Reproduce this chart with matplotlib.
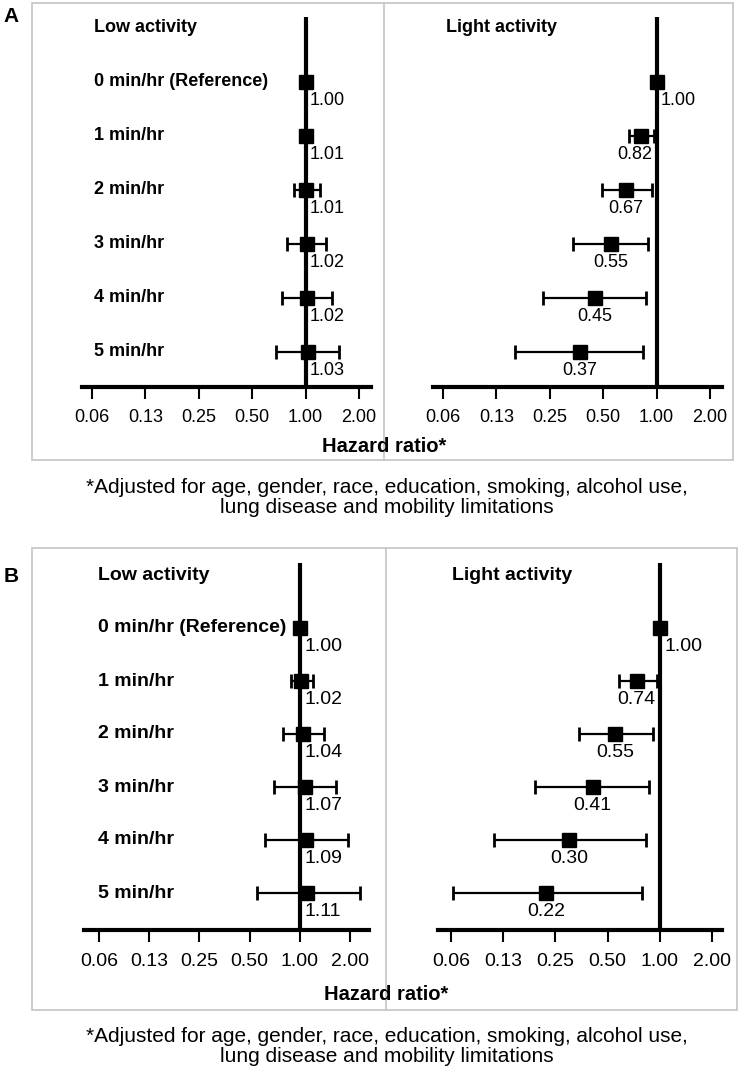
import numpy as np
import matplotlib
matplotlib.use("Agg")
import matplotlib.pyplot as plt
from matplotlib.patches import Rectangle
from matplotlib.lines import Line2D

plt.rcParams['font.family'] = ['Liberation Sans', 'DejaVu Sans']

# ---- data ----
row_labels = ["0 min/hr (Reference)", "1 min/hr", "2 min/hr", "3 min/hr", "4 min/hr", "5 min/hr"]
tick_vals = [0.0625, 0.125, 0.25, 0.5, 1.0, 2.0]
tick_labels = ["0.06", "0.13", "0.25", "0.50", "1.00", "2.00"]

a_low_hr = [1.00, 1.01, 1.01, 1.02, 1.02, 1.03]
a_low_lo = [1.00, 0.96, 0.86, 0.79, 0.74, 0.68]
a_low_hi = [1.00, 1.06, 1.20, 1.30, 1.41, 1.55]
a_light_hr = [1.00, 0.82, 0.67, 0.55, 0.45, 0.37]
a_light_lo = [1.00, 0.70, 0.49, 0.34, 0.23, 0.16]
a_light_hi = [1.00, 0.97, 0.94, 0.90, 0.87, 0.84]

b_low_hr = [1.00, 1.02, 1.04, 1.07, 1.09, 1.11]
b_low_lo = [1.00, 0.89, 0.79, 0.70, 0.62, 0.55]
b_low_hi = [1.00, 1.20, 1.39, 1.65, 1.95, 2.29]
b_light_hr = [1.00, 0.74, 0.55, 0.41, 0.30, 0.22]
b_light_lo = [1.00, 0.58, 0.34, 0.19, 0.11, 0.064]
b_light_hi = [1.00, 0.96, 0.91, 0.87, 0.83, 0.79]

footnote_1 = "*Adjusted for age, gender, race, education, smoking, alcohol use,"
footnote_2 = "lung disease and mobility limitations"

W, H = 740, 1070
fig = plt.figure(figsize=(W / 100, H / 100), dpi=100)


def fx(px):
    return px / W


def fy(py):
    return 1 - py / H


def make_ax(tick_lo, tick_hi, span_lo, span_hi, top, row0, row5, axis_y):
    unit = (tick_hi - tick_lo) / 5.0
    rs = (row5 - row0) / 5.0
    ax = fig.add_axes([fx(span_lo), fy(axis_y), (span_hi - span_lo) / W, (axis_y - top) / H])
    ax.set_xscale('log', base=2)
    ax.set_xlim(2 ** (-4 - (tick_lo - span_lo) / unit), 2 ** (1 + (span_hi - tick_hi) / unit))
    ax.set_ylim(5 + (axis_y - row5) / rs, -(row0 - top) / rs)
    ax.patch.set_visible(False)
    for s in ['top', 'left', 'right']:
        ax.spines[s].set_visible(False)
    ax.spines['bottom'].set_linewidth(3)
    ax.set_yticks([])
    ax.set_xticks(tick_vals)
    ax.set_xticklabels(tick_labels)
    ax.minorticks_off()
    return ax


pending = []


def draw_forest(ax, hr, lo, hi, title, title_x, labels, fs, tfs, ms, pad):
    hr = np.array(hr)
    lo = np.array(lo)
    hi = np.array(hi)
    y = np.arange(len(hr))
    ax.tick_params(axis='x', direction='out', length=8.5, width=1.5, labelsize=tfs, pad=pad)
    ax.axvline(1.0, color='black', lw=3, zorder=1)
    ax.errorbar(hr, y, xerr=[hr - lo, hi - hr], fmt='s', ms=ms, color='black',
                ecolor='black', elinewidth=1.6, capsize=5.2, capthick=2, zorder=3)
    ax.annotate(title, xy=(title_x, -1), xycoords=('figure pixels', 'data'),
                ha='left', va='center', fontsize=fs, fontweight='bold', annotation_clip=False)
    if labels is not None:
        for i, lab in enumerate(labels):
            ax.annotate(lab, xy=(title_x, i), xycoords=('figure pixels', 'data'),
                        ha='left', va='center', fontsize=fs, fontweight='bold', annotation_clip=False)
    for i, v in enumerate(hr):
        if v >= 1.0:
            t = ax.annotate(f"{v:.2f}", xy=(1.0, i), xytext=(3.2, -13), textcoords='offset points',
                            ha='left', va='center', fontsize=tfs, annotation_clip=False)
        else:
            t = ax.annotate(f"{v:.2f}", xy=(v, i), xytext=(0, -13), textcoords='offset points',
                            ha='center', va='center', fontsize=tfs, annotation_clip=False)
            pending.append((ax, t, i))


# ---- panel A ----
axA1 = make_ax(92, 359, 82, 371, 17, 82, 352, 387)
draw_forest(axA1, a_low_hr, a_low_lo, a_low_hi, "Low activity", 94, row_labels, 13, 13, 10, 7)
axA2 = make_ax(443, 710, 433, 722, 17, 82, 352, 387)
draw_forest(axA2, a_light_hr, a_light_lo, a_light_hi, "Light activity", 446, None, 13, 13, 10, 7)

# ---- panel B ----
axB1 = make_ax(99, 350, 84, 369, 563, 628, 893, 930)
draw_forest(axB1, b_low_hr, b_low_lo, b_low_hi, "Low activity", 98, row_labels, 14, 14, 10.5, 8)
axB2 = make_ax(451, 712, 438, 722, 563, 628, 893, 930)
draw_forest(axB2, b_light_hr, b_light_lo, b_light_hi, "Light activity", 452, None, 14, 14, 10.5, 8)

# keep labels off the reference line
fig.canvas.draw()
r = fig.canvas.get_renderer()
for ax, t, i in pending:
    bb = t.get_window_extent(r)
    line_x = ax.transData.transform((1.0, 0))[0]
    if bb.x1 > line_x - 4:
        t.xy = (1.0, i)
        t.set_ha('right')
        t.set_position((-3, -13))

# boxes, letters, axis titles, footnotes
for (x0, y0, x1, y1, xd) in [(32, 3, 733, 460, 384), (32, 548, 737, 1010, 386)]:
    fig.patches.append(Rectangle((fx(x0), fy(y1)), (x1 - x0) / W, (y1 - y0) / H,
                                 transform=fig.transFigure, fill=False, ec='#c4c4c4', lw=1.2, zorder=0))
    fig.lines.append(Line2D([fx(xd), fx(xd)], [fy(y0), fy(y1)], transform=fig.transFigure,
                            color='#c4c4c4', lw=1.2, zorder=0))

fig.text(fx(11), fy(16), "A", ha='center', va='center', fontsize=15, fontweight='bold')
fig.text(fx(11), fy(577), "B", ha='center', va='center', fontsize=15, fontweight='bold')
fig.text(fx(384), fy(446), "Hazard ratio*", ha='center', va='center', fontsize=14.5, fontweight='bold')
fig.text(fx(386), fy(995), "Hazard ratio*", ha='center', va='center', fontsize=14.5, fontweight='bold')
for y1, y2 in [(488, 508), (1037, 1057)]:
    fig.text(fx(387), fy(y1), footnote_1, ha='center', va='center', fontsize=15)
    fig.text(fx(387), fy(y2), footnote_2, ha='center', va='center', fontsize=15)

fig.savefig("out.png", dpi=100)
